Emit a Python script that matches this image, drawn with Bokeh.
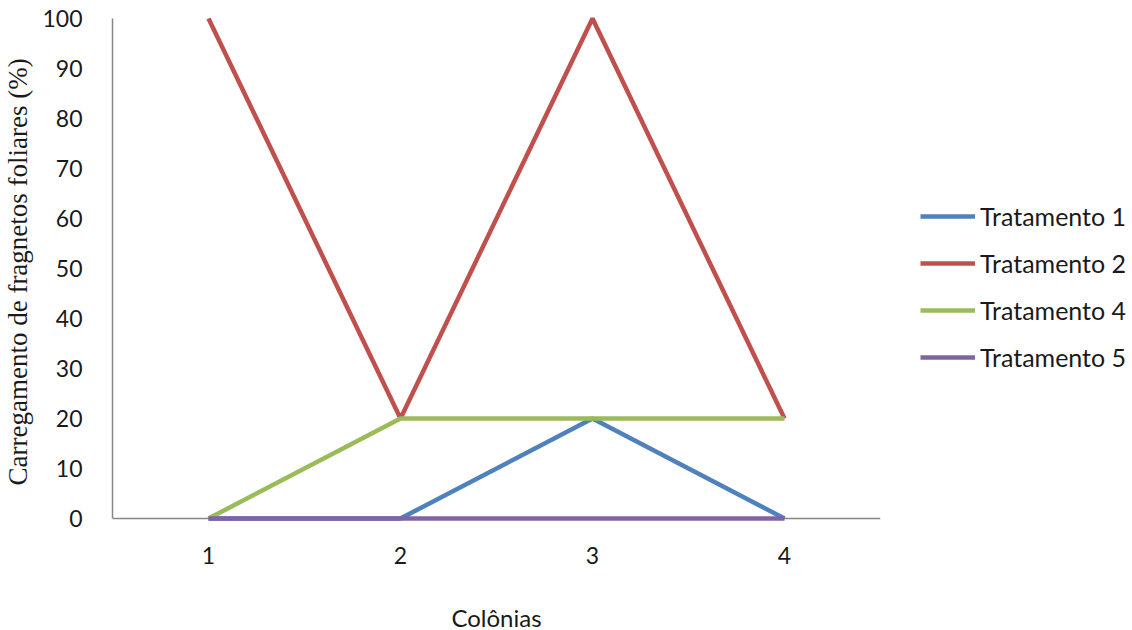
from bokeh.plotting import figure
from bokeh.models import Legend, LegendItem, FixedTicker, Range1d, Span
from bokeh.embed import file_html
from bokeh.resources import INLINE

colonias = [1, 2, 3, 4]
tick_labels = ["1", "2", "3", "4"]
tratamento_1 = [0, 0, 20, 0]
tratamento_2 = [100, 20, 100, 20]
tratamento_4 = [0, 20, 20, 20]
tratamento_5 = [0, 0, 0, 0]
series_names = ["Tratamento 1", "Tratamento 2", "Tratamento 4", "Tratamento 5"]
series_values = [tratamento_1, tratamento_2, tratamento_4, tratamento_5]
colors = ["#4F81BD", "#C0504D", "#9BBB59", "#8064A2"]

FONT = "Lato"
AXIS_GRAY = "#868686"

p = figure(frame_width=768, frame_height=512, output_backend="svg", toolbar_location=None,
           x_range=Range1d(0.5, 4.5), y_range=Range1d(-1.2, 101.2),
           min_border_left=112, min_border_right=252, min_border_top=12,
           min_border_bottom=106)
p.outline_line_color = None
p.xgrid.visible = False
p.ygrid.visible = False
p.background_fill_color = "white"
p.border_fill_color = "white"

# horizontal axis line at value 0
p.add_layout(Span(location=0, dimension="width", line_color=AXIS_GRAY,
                  line_width=1.5, level="underlay"))

items = []
for name, vals, c in zip(series_names, series_values, colors):
    r = p.line(colonias, vals, line_color=c, line_width=4.5)
    items.append(LegendItem(label=name, renderers=[r]))

p.xaxis.ticker = FixedTicker(ticks=colonias)
p.xaxis.major_label_overrides = {c: t for c, t in zip(colonias, tick_labels)}
p.yaxis.ticker = FixedTicker(ticks=list(range(0, 101, 10)))
p.yaxis.bounds = (0, 100)

for ax in (p.xaxis[0], p.yaxis[0]):
    ax.major_tick_line_color = None
    ax.minor_tick_line_color = None
    ax.major_label_text_font = FONT
    ax.major_label_text_font_size = "23px"
    ax.major_label_text_color = "#1a1a1a"

p.yaxis.axis_line_color = AXIS_GRAY
p.yaxis.axis_line_width = 1.5
p.xaxis.axis_line_color = None

p.yaxis.major_label_standoff = 24
p.xaxis.major_label_standoff = 16

p.yaxis.axis_label = "Carregamento de fragnetos foliares  (%)"
p.yaxis.axis_label_text_font = "Liberation Serif"
p.yaxis.axis_label_text_font_style = "normal"
p.yaxis.axis_label_text_font_size = "27px"
p.yaxis.axis_label_text_color = "#1a1a1a"
p.yaxis.axis_label_standoff = 6

p.xaxis.axis_label = "Colônias"
p.xaxis.axis_label_text_font = FONT
p.xaxis.axis_label_text_font_style = "normal"
p.xaxis.axis_label_text_font_size = "24px"
p.xaxis.axis_label_text_color = "#1a1a1a"
p.xaxis.axis_label_standoff = 36

legend = Legend(items=items, location=(40, 152), padding=0, margin=0,
                border_line_color=None, background_fill_alpha=0,
                glyph_width=55, glyph_height=20, label_height=20,
                spacing=17, label_standoff=5,
                label_text_font=FONT, label_text_font_size="25px",
                label_text_color="#1a1a1a")
p.add_layout(legend, "right")

open("out.html", "w").write(file_html(p, INLINE))
